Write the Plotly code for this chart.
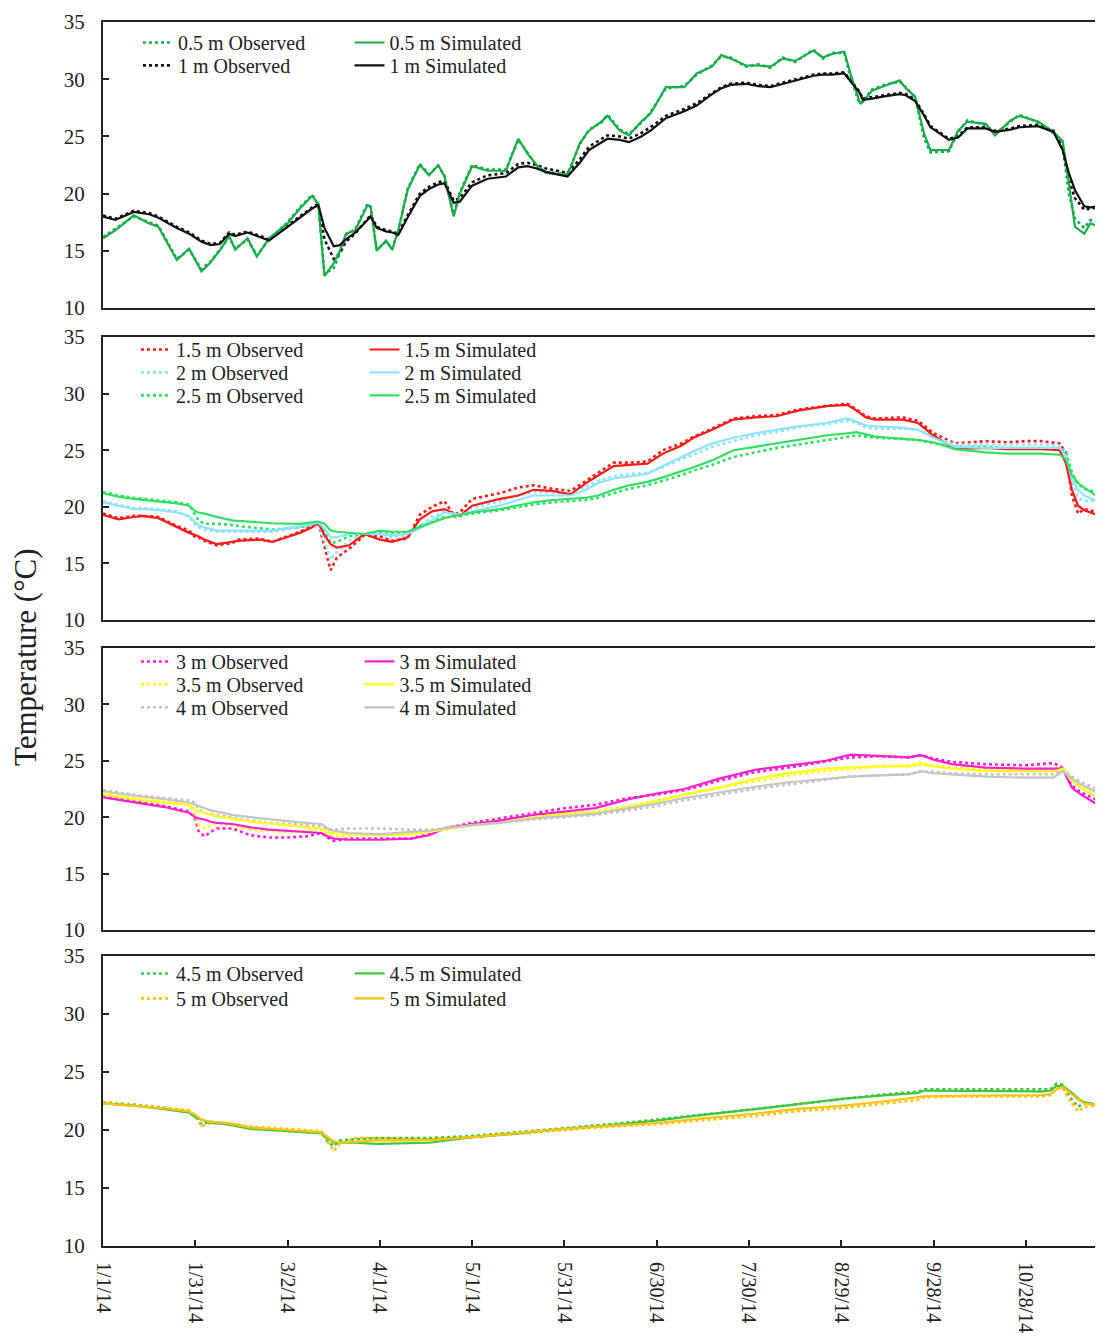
import pandas as pd
import plotly.graph_objects as go
from plotly.subplots import make_subplots

# ---------------- data (day offsets from 1 Jan 2014, temperatures in °C) ----------------
days_p1 = [0, 4, 10, 15, 18, 24, 28, 32, 35, 38, 41, 43, 47, 50, 54, 60, 64, 68, 70, 72, 75, 77, 79, 82,
           86, 87, 89, 92, 94, 96, 99, 103, 106, 109, 111, 114, 116, 120, 125, 131, 135, 138, 141, 144,
           151, 155, 158, 162, 164, 168, 171, 175, 178, 183, 189, 193, 198, 201, 204, 209, 213, 217, 221,
           225, 231, 234, 237, 241, 243, 246, 247, 250, 254, 259, 261, 264, 267, 269, 275, 278, 281, 287,
           290, 295, 298, 304, 309, 312, 314, 316, 319, 321, 324]
sim_05 = [16.1, 16.8, 18.1, 17.4, 17.1, 14.2, 15.2, 13.2, 14.0, 15.05, 16.3, 15.1, 16.1, 14.5, 16.1, 17.4,
          18.7, 19.8, 19.1, 12.8, 13.9, 15.0, 16.5, 16.8, 19.0, 18.9, 15.0, 15.9, 15.1, 16.8, 20.3, 22.5,
          21.6, 22.5, 21.5, 18.0, 20.0, 22.4, 22.0, 22.0, 24.8, 23.5, 22.5, 21.8, 21.6, 24.4, 25.5, 26.3,
          26.8, 25.5, 25.1, 26.3, 27.0, 29.3, 29.3, 30.5, 31.1, 32.1, 31.8, 31.2, 31.2, 31.1, 31.8, 31.6,
          32.5, 31.9, 32.2, 32.4, 30.5, 28.0, 28.0, 29.0, 29.4, 29.9, 29.2, 28.5, 25.2, 23.8, 23.8, 25.5,
          26.3, 26.1, 25.1, 26.4, 26.8, 26.3, 25.4, 24.6, 20.9, 17.1, 16.5, 17.4, 17.1]
obs_05 = [16.2, 16.9, 18.0, 17.5, 17.2, 14.3, 15.1, 13.4, 14.1, 15.1, 16.2, 15.2, 16.0, 14.6, 16.0, 17.5,
          18.8, 19.9, 19.0, 13.0, 13.5, 14.8, 16.4, 16.9, 19.1, 18.8, 15.1, 15.8, 15.2, 16.7, 20.4, 22.6,
          21.7, 22.4, 21.6, 18.2, 20.1, 22.5, 22.1, 22.1, 24.7, 23.6, 22.4, 21.9, 21.7, 24.3, 25.6, 26.2,
          26.9, 25.6, 25.2, 26.2, 27.1, 29.2, 29.4, 30.4, 31.2, 32.0, 31.9, 31.1, 31.3, 31.0, 31.9, 31.5,
          32.6, 31.8, 32.3, 32.3, 30.2, 27.8, 28.1, 29.1, 29.5, 29.8, 29.3, 28.4, 24.8, 23.6, 23.7, 25.4,
          26.4, 26.0, 25.2, 26.3, 26.9, 26.2, 25.3, 24.2, 20.0, 17.8, 17.0, 17.7, 17.4]
sim_1 = [18.0, 17.7, 18.4, 18.2, 17.9, 17.0, 16.5, 15.8, 15.5, 15.6, 16.5, 16.3, 16.6, 16.3, 15.9, 17.1,
         17.9, 18.7, 19.0, 17.0, 15.4, 15.5, 16.0, 16.6, 17.7, 18.0, 17.0, 16.7, 16.6, 16.4, 17.9, 19.8,
         20.4, 20.8, 20.9, 19.2, 19.3, 20.7, 21.3, 21.5, 22.3, 22.4, 22.2, 21.9, 21.5, 22.7, 23.8, 24.5,
         24.8, 24.7, 24.5, 25.0, 25.5, 26.6, 27.2, 27.7, 28.7, 29.2, 29.5, 29.6, 29.4, 29.3, 29.6, 29.9,
         30.3, 30.4, 30.4, 30.5, 29.8, 28.8, 28.2, 28.3, 28.5, 28.7, 28.6, 28.1, 26.8, 25.8, 24.7, 24.9,
         25.7, 25.7, 25.4, 25.6, 25.8, 25.9, 25.4, 23.8, 21.8, 20.3, 18.9, 18.8, 18.9]
obs_1 = [18.1, 17.8, 18.5, 18.3, 18.0, 17.1, 16.6, 15.9, 15.6, 15.7, 16.6, 16.4, 16.7, 16.4, 16.0, 17.2,
         18.0, 18.8, 19.1, 16.0, 14.3, 14.8, 15.8, 16.5, 17.8, 18.1, 17.1, 16.8, 16.7, 16.5, 18.1, 20.0,
         20.6, 21.0, 21.1, 19.4, 19.6, 21.0, 21.6, 21.8, 22.6, 22.7, 22.5, 22.2, 21.8, 23.0, 24.1, 24.8,
         25.1, 25.0, 24.8, 25.3, 25.8, 26.8, 27.4, 27.9, 28.8, 29.3, 29.6, 29.7, 29.5, 29.4, 29.7, 30.0,
         30.4, 30.5, 30.5, 30.6, 29.9, 28.9, 28.3, 28.4, 28.6, 28.8, 28.7, 28.2, 26.9, 25.9, 24.8, 25.0,
         25.8, 25.8, 25.5, 25.7, 25.9, 26.0, 25.5, 24.0, 21.2, 19.6, 18.6, 18.7, 18.8]

days_p2 = [0, 5, 10, 13, 18, 24, 28, 30, 31, 33, 37, 42, 44, 51, 55, 64, 68, 70, 72, 74, 76, 80, 85, 90,
           94, 99, 103, 107, 111, 114, 116, 120, 129, 135, 140, 146, 152, 157, 161, 166, 171, 177, 182,
           188, 192, 198, 205, 212, 219, 226, 235, 242, 245, 248, 251, 260, 265, 270, 277, 287, 294, 300,
           305, 311, 313, 315, 317, 319, 324]
sim_15 = [19.3, 18.9, 19.1, 19.2, 19.0, 18.2, 17.7, 17.5, 17.4, 17.1, 16.7, 16.9, 17.0, 17.1, 16.9, 17.7,
          18.2, 18.6, 17.5, 16.7, 16.4, 16.6, 17.6, 17.1, 16.9, 17.3, 18.9, 19.6, 19.8, 19.4, 19.2, 20.1,
          20.7, 21.0, 21.5, 21.4, 21.1, 22.1, 22.8, 23.6, 23.7, 23.8, 24.7, 25.4, 26.1, 26.8, 27.7, 27.9,
          28.0, 28.5, 28.9, 29.0, 28.5, 27.9, 27.7, 27.7, 27.4, 26.3, 25.1, 25.2, 25.1, 25.1, 25.1, 25.0,
          23.9, 21.5, 20.1, 19.7, 19.2]
obs_15 = [19.4, 19.0, 19.2, 19.2, 19.1, 18.3, 17.9, 17.3, 17.3, 17.0, 16.6, 16.8, 17.1, 17.2, 16.9, 17.8,
          18.3, 18.5, 16.5, 14.4, 15.5, 16.3, 17.5, 17.4, 17.0, 17.2, 19.3, 20.0, 20.5, 19.3, 19.5, 20.7,
          21.2, 21.7, 21.9, 21.6, 21.4, 22.3, 23.0, 23.9, 23.9, 24.0, 25.0, 25.6, 26.2, 26.9, 27.8, 28.0,
          28.1, 28.6, 28.9, 29.1, 28.6, 28.0, 27.8, 27.9, 27.6, 26.5, 25.6, 25.8, 25.7, 25.8, 25.8, 25.6,
          24.8, 21.0, 19.4, 19.8, 19.5]
sim_2 = [20.4, 20.1, 19.8, 19.8, 19.7, 19.5, 19.2, 18.6, 18.4, 18.2, 17.9, 17.9, 17.9, 17.9, 17.9, 18.3,
         18.5, 18.6, 18.1, 17.3, 17.3, 17.6, 17.6, 17.6, 17.5, 17.6, 18.1, 18.8, 19.5, 19.4, 19.3, 19.6,
         20.1, 20.6, 21.0, 21.0, 21.0, 21.5, 22.1, 22.5, 22.7, 22.9, 23.6, 24.4, 24.9, 25.6, 26.1, 26.5,
         26.8, 27.1, 27.4, 27.8, 27.5, 27.2, 27.1, 27.0, 26.8, 26.1, 25.3, 25.2, 25.2, 25.2, 25.2, 25.2,
         24.5, 22.5, 21.5, 21.0, 20.4]
obs_2 = [20.5, 20.2, 19.9, 19.9, 19.8, 19.6, 19.1, 18.4, 18.2, 18.0, 17.8, 17.8, 17.8, 17.8, 17.8, 18.2,
         18.4, 18.5, 17.0, 15.3, 16.0, 17.0, 17.5, 17.6, 17.3, 17.5, 18.3, 19.1, 19.6, 19.3, 19.3, 19.9,
         20.5, 21.0, 21.3, 21.3, 21.2, 21.8, 22.3, 22.7, 22.9, 23.0, 23.5, 24.2, 24.6, 25.3, 25.8, 26.3,
         26.6, 27.0, 27.3, 27.6, 27.4, 27.0, 26.9, 26.9, 26.8, 26.2, 25.5, 25.5, 25.5, 25.5, 25.5, 25.4,
         24.9, 22.3, 20.8, 20.5, 20.6]
sim_25 = [21.2, 20.9, 20.7, 20.6, 20.5, 20.3, 20.1, 19.6, 19.5, 19.4, 19.1, 18.8, 18.75, 18.6, 18.55, 18.5,
          18.6, 18.7, 18.5, 17.9, 17.8, 17.7, 17.6, 17.9, 17.8, 17.8, 18.2, 18.6, 19.0, 19.2, 19.3, 19.5,
          19.8, 20.1, 20.4, 20.6, 20.7, 20.8, 21.0, 21.5, 21.9, 22.2, 22.6, 23.1, 23.5, 24.1, 25.0, 25.3,
          25.6, 25.9, 26.3, 26.5, 26.6, 26.4, 26.2, 26.0, 25.9, 25.7, 25.1, 24.8, 24.7, 24.7, 24.7, 24.6,
          24.2, 22.8, 22.1, 21.7, 20.8]
obs_25 = [21.3, 21.0, 20.8, 20.7, 20.6, 20.4, 20.2, 19.3, 18.8, 18.5, 18.5, 18.4, 18.3, 18.1, 18.0, 18.2,
          18.4, 18.5, 17.8, 16.8, 16.9, 17.4, 17.6, 17.8, 17.7, 17.7, 18.3, 18.7, 19.1, 19.1, 19.2, 19.4,
          19.7, 20.0, 20.2, 20.4, 20.5, 20.6, 20.8, 21.2, 21.6, 21.9, 22.3, 22.8, 23.2, 23.7, 24.4, 24.8,
          25.2, 25.5, 25.9, 26.2, 26.3, 26.2, 26.1, 26.0, 25.9, 25.6, 25.3, 25.3, 25.2, 25.2, 25.2, 25.1,
          24.9, 23.0, 22.0, 21.6, 21.2]

days_p3 = [0, 10, 20, 28, 30, 31, 33, 35, 37, 42, 48, 54, 60, 66, 71, 73, 75, 80, 90, 100, 106, 111, 120,
           129, 140, 150, 160, 171, 180, 189, 200, 212, 223, 235, 243, 252, 262, 266, 270, 276, 287, 300,
           309, 312, 315, 318, 324]
sim_3 = [21.75, 21.3, 20.9, 20.4, 20.0, 19.9, 19.8, 19.6, 19.5, 19.4, 19.1, 18.9, 18.8, 18.7, 18.6, 18.3,
         18.1, 18.0, 18.0, 18.1, 18.4, 19.0, 19.4, 19.7, 20.2, 20.5, 20.8, 21.6, 22.1, 22.5, 23.4, 24.2,
         24.6, 25.0, 25.55, 25.4, 25.3, 25.5, 25.1, 24.7, 24.4, 24.3, 24.3, 24.3, 22.6, 22.0, 21.0]
obs_3 = [21.9, 21.4, 21.0, 20.5, 19.8, 18.8, 18.3, 18.7, 19.0, 19.0, 18.4, 18.2, 18.2, 18.3, 18.6, 18.2,
         17.9, 18.1, 18.1, 18.1, 18.5, 19.0, 19.5, 19.9, 20.4, 20.8, 21.1, 21.7, 22.0, 22.4, 23.2, 24.0,
         24.4, 24.9, 25.3, 25.4, 25.3, 25.5, 25.2, 24.9, 24.7, 24.6, 24.8, 24.4, 22.8, 22.2, 21.4]
sim_35 = [22.0, 21.6, 21.3, 21.1, 20.7, 20.5, 20.4, 20.2, 20.1, 19.9, 19.6, 19.45, 19.3, 19.1, 19.0, 18.7,
          18.6, 18.5, 18.4, 18.5, 18.7, 18.9, 19.3, 19.5, 20.0, 20.3, 20.4, 20.9, 21.4, 22.0, 22.6, 23.4,
          23.9, 24.3, 24.4, 24.5, 24.5, 24.7, 24.5, 24.3, 24.1, 24.05, 24.05, 24.3, 23.2, 22.6, 21.6]
obs_35 = [22.1, 21.7, 21.4, 21.1, 20.3, 19.3, 19.0, 19.3, 19.5, 19.3, 18.9, 18.8, 18.7, 18.8, 18.9, 18.5,
          18.3, 18.4, 18.4, 18.5, 18.7, 19.0, 19.3, 19.6, 20.0, 20.3, 20.5, 21.0, 21.5, 22.0, 22.6, 23.2,
          23.7, 24.1, 24.3, 24.5, 24.6, 24.8, 24.6, 24.4, 24.3, 24.2, 24.3, 24.4, 23.4, 22.8, 22.0]
sim_4 = [22.3, 21.9, 21.6, 21.3, 21.1, 21.0, 20.8, 20.6, 20.5, 20.2, 20.0, 19.8, 19.65, 19.5, 19.4, 19.0,
         18.8, 18.6, 18.5, 18.7, 18.8, 19.0, 19.3, 19.5, 19.9, 20.1, 20.3, 20.8, 21.2, 21.7, 22.2, 22.7,
         23.1, 23.4, 23.6, 23.7, 23.8, 24.05, 23.9, 23.8, 23.6, 23.5, 23.5, 24.1, 23.4, 22.9, 22.1]
obs_4 = [22.4, 22.0, 21.7, 21.5, 21.3, 20.7, 20.4, 20.3, 20.2, 20.0, 19.7, 19.5, 19.4, 19.3, 19.2, 18.9,
         18.9, 19.0, 19.0, 18.9, 18.9, 19.0, 19.3, 19.5, 19.8, 20.0, 20.2, 20.6, 21.0, 21.5, 22.0, 22.5,
         22.9, 23.3, 23.6, 23.7, 23.8, 24.1, 24.0, 23.9, 23.8, 23.8, 23.8, 24.2, 23.6, 23.1, 22.4]

days_p4 = [0, 10, 20, 28, 30, 32, 35, 40, 48, 60, 71, 73, 75, 77, 82, 89, 100, 106, 121, 135, 148, 165, 180,
           195, 212, 225, 241, 255, 265, 267, 280, 295, 305, 308, 310, 312, 315, 317, 319, 324]
sim_45 = [22.3, 22.1, 21.8, 21.5, 21.1, 20.9, 20.6, 20.5, 20.1, 19.9, 19.7, 19.3, 18.9, 18.9, 18.9, 18.8,
          18.85, 18.9, 19.4, 19.7, 20.05, 20.4, 20.8, 21.3, 21.8, 22.2, 22.7, 23.0, 23.2, 23.4, 23.4, 23.35,
          23.3, 23.4, 23.8, 23.8, 23.2, 22.7, 22.4, 22.1]
obs_45 = [22.4, 22.2, 21.9, 21.6, 21.2, 20.5, 20.7, 20.6, 20.2, 19.9, 19.8, 19.0, 18.6, 19.1, 19.2, 19.3,
          19.3, 19.3, 19.5, 19.8, 20.1, 20.5, 20.9, 21.3, 21.8, 22.2, 22.7, 23.1, 23.3, 23.5, 23.5, 23.5,
          23.5, 23.5, 24.0, 23.9, 22.6, 22.0, 22.3, 22.2]
sim_5 = [22.3, 22.1, 21.85, 21.6, 21.3, 20.9, 20.7, 20.6, 20.2, 20.0, 19.8, 19.4, 19.0, 18.9, 19.0, 19.1,
         19.1, 19.1, 19.4, 19.75, 20.05, 20.35, 20.6, 21.0, 21.4, 21.8, 22.1, 22.5, 22.8, 22.9, 22.95, 23.0,
         23.0, 23.1, 23.5, 23.7, 23.1, 22.6, 22.3, 22.1]
obs_5 = [22.4, 22.15, 21.9, 21.7, 21.2, 20.3, 20.6, 20.6, 20.3, 20.1, 19.9, 19.0, 18.2, 18.8, 19.3, 19.3,
         19.2, 19.2, 19.4, 19.7, 20.0, 20.3, 20.5, 20.8, 21.2, 21.6, 21.9, 22.3, 22.6, 22.8, 22.9, 22.9,
         22.9, 23.0, 23.6, 23.6, 22.3, 21.6, 22.0, 22.1]

tick_labels = ["1/1/14", "1/31/14", "3/2/14", "4/1/14", "5/1/14", "5/31/14", "6/30/14",
               "7/30/14", "8/29/14", "9/28/14", "10/28/14"]
y_ticks = [10, 15, 20, 25, 30, 35]

START = pd.Timestamp("2014-01-01")


def to_dates(days):
    return [START + pd.Timedelta(days=d) for d in days]


tick_vals = [START + pd.Timedelta(days=30 * i) for i in range(len(tick_labels))]

panels = [
    (days_p1, [("0.5 m", obs_05, sim_05, "#19ad4c"), ("1 m", obs_1, sim_1, "#111111")]),
    (days_p2, [("1.5 m", obs_15, sim_15, "#ff1a1a"), ("2 m", obs_2, sim_2, "#8fe3ff"),
               ("2.5 m", obs_25, sim_25, "#2fe062")]),
    (days_p3, [("3 m", obs_3, sim_3, "#ff1fcf"), ("3.5 m", obs_35, sim_35, "#ffff1a"),
               ("4 m", obs_4, sim_4, "#c4c4c4")]),
    (days_p4, [("4.5 m", obs_45, sim_45, "#3cc83c"), ("5 m", obs_5, sim_5, "#ffc20e")]),
]

# ---------------- geometry ----------------
# The page body has an 8 px margin, so the figure is placed at (8, 8) of the window.
OFF = 8
W, H = 1095, 1332
ML, MR, MT, MB = 95, 2, 10, 94
PW, PH = W - ML - MR, H - MT - MB


def py(p):  # page pixel y -> paper y
    return (H - MB - (p - OFF)) / PH


def px(p):  # page pixel x -> paper x
    return (p - OFF - ML) / PW


panel_px = [(18, 305), (334, 618), (646, 929), (955, 1246)]
legend_row_centers = [[38, 61], [346, 369, 392], [659, 682, 705], [972, 997]]
legend_text_x = [(178, 390), (176, 405), (176, 400), (176, 390)]

fig = make_subplots(rows=4, cols=1, shared_xaxes=True, vertical_spacing=0.02)

FONT = "Liberation Serif, Times New Roman, serif"
leg_n = 0


def new_legend(xtext, ycenter):
    global leg_n
    leg_n += 1
    key = "legend" if leg_n == 1 else f"legend{leg_n}"
    fig.update_layout(**{key: dict(x=px(xtext - 40), y=py(ycenter - 19), xanchor="left", yanchor="top",
                                   bgcolor="rgba(0,0,0,0)", borderwidth=0,
                                   font=dict(family=FONT, size=20, color="#222"),
                                   itemwidth=30)})
    return key


for r, (days, series) in enumerate(panels, start=1):
    dates = to_dates(days)
    rows = legend_row_centers[r - 1]
    xo, xs = legend_text_x[r - 1]
    for i, (name, obs, sim, col) in enumerate(series):
        lk = new_legend(xo, rows[i])
        fig.add_trace(go.Scatter(x=dates, y=obs, mode="lines", name=f"{name} Observed",
                                 line=dict(color=col, width=2.6, dash="dot"), legend=lk),
                      row=r, col=1)
    for i, (name, obs, sim, col) in enumerate(series):
        lk = new_legend(xs, rows[i])
        fig.add_trace(go.Scatter(x=dates, y=sim, mode="lines", name=f"{name} Simulated",
                                 line=dict(color=col, width=2.2), legend=lk),
                      row=r, col=1)

for r in range(1, 5):
    top, bot = panel_px[r - 1]
    yname = "yaxis" if r == 1 else f"yaxis{r}"
    xname = "xaxis" if r == 1 else f"xaxis{r}"
    fig.update_layout(**{
        yname: dict(domain=[py(bot), py(top)], range=[10, 35], tickvals=y_ticks,
                    ticks="inside", ticklen=6, tickwidth=1.5, tickcolor="#222",
                    ticklabelstandoff=12,
                    showline=True, linecolor="#222", linewidth=2, mirror=True,
                    showgrid=False, zeroline=False,
                    tickfont=dict(family=FONT, size=21, color="#222")),
        xname: dict(range=[START, START + pd.Timedelta(days=323.8)],
                    showline=True, linecolor="#222", linewidth=2, mirror=True,
                    showgrid=False, zeroline=False,
                    tickvals=tick_vals, ticktext=tick_labels,
                    ticks="inside" if r == 4 else "", ticklen=6, tickwidth=1.5, tickcolor="#222",
                    ticklabelstandoff=10,
                    showticklabels=(r == 4), tickangle=90,
                    tickfont=dict(family=FONT, size=20, color="#222")),
    })

fig.add_annotation(text="Temperature (°C)", xref="paper", yref="paper",
                   x=px(26), y=py(655), xanchor="center", yanchor="middle",
                   textangle=-90, showarrow=False,
                   font=dict(family=FONT, size=31, color="#222"))

fig.update_layout(width=W, height=H, margin=dict(l=ML, r=MR, t=MT, b=MB),
                  plot_bgcolor="white", paper_bgcolor="white", showlegend=True)

fig.write_html("out.html")
